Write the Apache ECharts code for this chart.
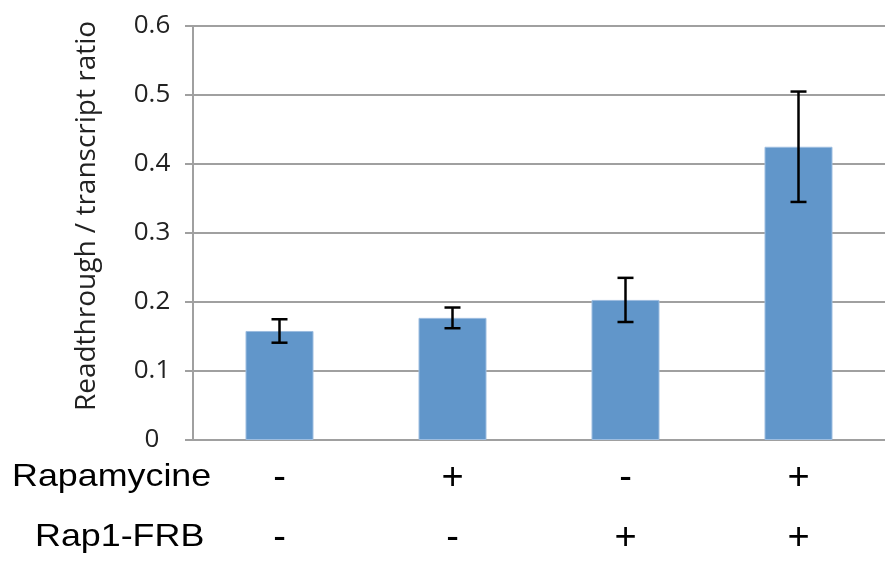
<!DOCTYPE html>
<html>
<head>
<meta charset="utf-8">
<script src="https://cdn.jsdelivr.net/npm/echarts@6/dist/echarts.min.js"></script>
<style>html,body{margin:0;padding:0;background:#fff}#c{width:885px;height:567px}</style>
</head>
<body>
<div id="c"></div>
<script>
const rapamycine = ['-', '+', '-', '+'];
const rap1FRB = ['-', '-', '+', '+'];
const categories = rapamycine.map((r, i) => r + '/' + rap1FRB[i]);
const ratio = [0.158, 0.177, 0.203, 0.425];
const errors = [0.017, 0.015, 0.032, 0.080];
const yTicks = { min: 0, max: 0.6, interval: 0.1 };
const yName = 'Readthrough / transcript ratio';
const rowNames = ['Rapamycine', 'Rap1-FRB'];

const chart = echarts.init(document.getElementById('c'));
const errData = ratio.map((v, i) => [i, v - errors[i], v + errors[i]]);

chart.setOption({
  animation: false,
  grid: { left: 193, right: 0, top: 26, bottom: 127 },
  xAxis: {
    type: 'category',
    data: categories,
    axisLine: { lineStyle: { color: '#a0a0a0', width: 2 } },
    axisTick: { show: false },
    axisLabel: {
      margin: 9,
      interval: 0,
      formatter: function (v) {
        const p = v.split('/');
        return '{a|' + p[0] + '}\n{a|' + p[1] + '}';
      },
      rich: {
        a: { fontFamily: 'Liberation Sans, Arial', fontSize: 38, lineHeight: 60, color: '#000' }
      }
    }
  },
  yAxis: {
    type: 'value',
    min: yTicks.min,
    max: yTicks.max,
    interval: yTicks.interval,
    name: yName,
    nameLocation: 'middle',
    nameGap: 92,
    nameRotate: 90,
    nameTextStyle: { fontFamily: 'Open Sans', fontSize: 28, color: '#222', padding: [0, 0, 0, 34] },
    axisLine: { show: true, lineStyle: { color: '#a0a0a0', width: 2 } },
    axisTick: { show: true, length: 8, lineStyle: { color: '#a0a0a0', width: 2 } },
    splitLine: { lineStyle: { color: '#a0a0a0', width: 2 } },
    axisLabel: {
      margin: 41,
      align: 'center',
      fontFamily: 'Open Sans',
      fontSize: 26,
      color: '#222',
      formatter: function (v) { return v === 0 ? '0' : v.toFixed(1); }
    }
  },
  series: [
    {
      type: 'bar',
      data: ratio,
      barWidth: 68,
      itemStyle: { color: '#6196ca', borderColor: '#9dbde0', borderWidth: 1 },
      z: 2
    },
    {
      type: 'custom',
      data: errData,
      z: 5,
      renderItem: function (params, api) {
        const x = api.value(0);
        const lo = api.coord([x, api.value(1)]);
        const hi = api.coord([x, api.value(2)]);
        const hw = 8;
        const style = { stroke: '#000', lineWidth: 2.5 };
        return {
          type: 'group',
          children: [
            { type: 'line', shape: { x1: hi[0], y1: hi[1], x2: lo[0], y2: lo[1] }, style: style },
            { type: 'line', shape: { x1: hi[0] - hw, y1: hi[1], x2: hi[0] + hw, y2: hi[1] }, style: style },
            { type: 'line', shape: { x1: lo[0] - hw, y1: lo[1], x2: lo[0] + hw, y2: lo[1] }, style: style }
          ]
        };
      }
    }
  ],
  graphic: [
    { type: 'text', x: 12, y: 477, scaleX: 1.12, style: { text: rowNames[0], font: '32px "Liberation Sans", Arial', fill: '#000', textAlign: 'left', textVerticalAlign: 'middle' } },
    { type: 'text', x: 35, y: 537, scaleX: 1.12, style: { text: rowNames[1], font: '32px "Liberation Sans", Arial', fill: '#000', textAlign: 'left', textVerticalAlign: 'middle' } }
  ]
});
</script>
</body>
</html>
